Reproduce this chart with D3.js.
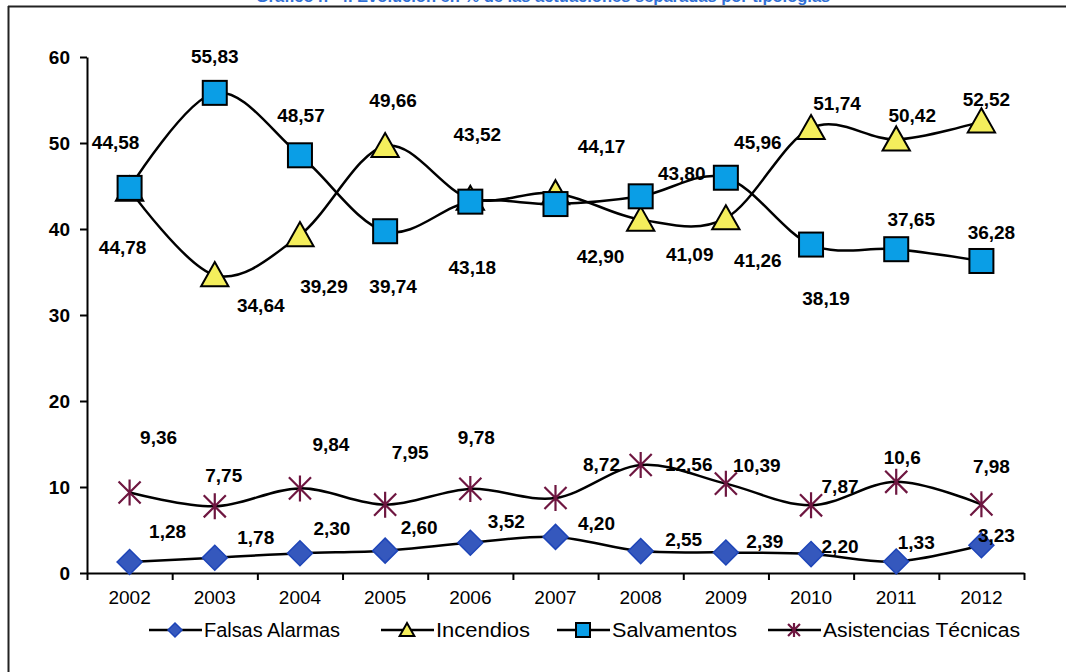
<!DOCTYPE html>
<html><head><meta charset="utf-8">
<script src="https://cdn.jsdelivr.net/npm/d3@7"></script>
<style>
html,body{margin:0;padding:0;background:#fff;}
svg{display:block;font-family:"Liberation Sans",Arial,sans-serif;}
</style></head>
<body><svg id="c" width="1066" height="672"></svg>
<script>
// ---- data ----
const years = ['2002','2003','2004','2005','2006','2007','2008','2009','2010','2011','2012'];
const falsasAlarmas = [1.28, 1.78, 2.30, 2.60, 3.52, 4.20, 2.55, 2.39, 2.20, 1.33, 3.23];
const incendios     = [44.58, 34.64, 39.29, 49.66, 43.52, 44.17, 41.09, 41.26, 51.74, 50.42, 52.52];
const salvamentos   = [44.78, 55.83, 48.57, 39.74, 43.18, 42.90, 43.80, 45.96, 38.19, 37.65, 36.28];
const asistencias   = [9.36, 7.75, 9.84, 7.95, 9.78, 8.72, 12.56, 10.39, 7.87, 10.6, 7.98];
const asistenciasDecimals = [2,2,2,2,2,2,2,2,2,1,2];
const yTicks = [0, 10, 20, 30, 40, 50, 60];
const seriesNames = ['Falsas Alarmas', 'Incendios', 'Salvamentos', 'Asistencias Técnicas'];
const titleText = 'Gráfico nº 4. Evolución en % de las actuaciones separadas por tipologías';

// label offsets (px) relative to each point [dx, dy]
const faOff = [[38,-30],[41,-20],[32,-25],[34,-23],[36,-21],[41,-13],[43,-12],[39,-11],[29,-8],[20,-19],[15,-10]];
const inOff = [[-14,-47],[46,30],[24,51],[8,-45],[7,-64],[46,-47],[49,35],[32,42],[26,-25],[16,-24],[5,-22]];
const saOff = [[-7,60],[0,-36],[1,-40],[8,55],[2,66],[45,52],[41,-23],[32,-35],[15,54],[15,-30],[10,-28]];
const asOff = [[29,-55],[9,-31],[31,-44],[25,-52],[6,-51],[46,-34],[48,0],[31,-18],[29,-19],[6,-24],[10,-38]];

// legend layout
const legX = [149, 381, 557, 768];
const legTextLen = [136, 94, 125, 197];

const svg = d3.select('#c');

// frame
svg.append('line').attr('x1',8).attr('x2',1066).attr('y1',6.5).attr('y2',6.5).attr('stroke','#222').attr('stroke-width',2);
svg.append('line').attr('x1',8.5).attr('x2',8.5).attr('y1',6).attr('y2',672).attr('stroke','#222').attr('stroke-width',2);

// title (cut off at top edge as in the reference)
svg.append('text').attr('x',543).attr('y',2).attr('text-anchor','middle')
  .attr('font-size',16.5).attr('font-weight','bold').attr('fill','#2f6fd6').text(titleText);

const x = d3.scaleBand().domain(years).range([87, 1024]);
const xc = d => x(d) + x.bandwidth()/2;
const xEdge = d3.scaleLinear().domain([0, years.length]).range([87, 1024]);
const y = d3.scaleLinear().domain([0, 60]).range([573, 57]);

// y axis
const ya = svg.append('g').attr('transform','translate(87,0)')
  .call(d3.axisLeft(y).tickValues(yTicks).tickSize(7).tickSizeOuter(0).tickPadding(10));
ya.select('.domain').attr('stroke','#000').attr('stroke-width',2);
ya.selectAll('.tick line').attr('stroke','#000').attr('stroke-width',2);
ya.selectAll('.tick text').attr('font-size',19).attr('font-weight','bold').attr('fill','#000')
  .attr('font-family','"Liberation Sans",Arial,sans-serif');

// x axis: boundary ticks
const xb = svg.append('g').attr('transform','translate(0,573)')
  .call(d3.axisBottom(xEdge).tickValues(d3.range(0, years.length+1)).tickFormat('').tickSize(7).tickSizeOuter(0));
xb.select('.domain').attr('stroke','#000').attr('stroke-width',2);
xb.selectAll('.tick line').attr('stroke','#000').attr('stroke-width',2);
// x axis labels
const xa = svg.append('g').attr('transform','translate(0,573)')
  .call(d3.axisBottom(x).tickSize(0).tickPadding(18));
xa.select('.domain').remove();
xa.selectAll('.tick text').attr('font-size',19).attr('fill','#000')
  .attr('font-family','"Liberation Sans",Arial,sans-serif');

const fmt = (v, dec) => v.toFixed(dec).replace('.', ',');
const line = d3.line().x((d,i) => xc(years[i])).y(d => y(d)).curve(d3.curveCardinal.tension(0));

// marker drawers
function diamond(g, s){
  g.append('path').attr('d', `M0,${-s}L${s},0L0,${s}L${-s},0Z`)
   .attr('fill','#3558bd').attr('stroke','#1e45b8').attr('stroke-width',1.5);
}
function triangle(g, s){
  g.append('path').attr('d', `M0,${-s}L${s*1.05},${s*0.85}L${-s*1.05},${s*0.85}Z`)
   .attr('fill','#f4ee5c').attr('stroke','#000').attr('stroke-width',2);
}
function square(g, s){
  g.append('rect').attr('x',-s).attr('y',-s).attr('width',2*s).attr('height',2*s)
   .attr('fill','#0a9ee6').attr('stroke','#000').attr('stroke-width',2);
}
function star(g, s){
  const c = '#6e1640';
  g.append('path').attr('d', `M0,${-s}L0,${s}M${-s*0.85},${-s*0.85}L${s*0.85},${s*0.85}M${s*0.85},${-s*0.85}L${-s*0.85},${s*0.85}`)
   .attr('stroke',c).attr('stroke-width',2.2).attr('fill','none');
}

const series = [
  {vals: falsasAlarmas, off: faOff, mk: diamond, size: 12.5, dec: falsasAlarmas.map(()=>2)},
  {vals: incendios, off: inOff, mk: triangle, size: 13, dec: incendios.map(()=>2)},
  {vals: salvamentos, off: saOff, mk: square, size: 12, dec: salvamentos.map(()=>2)},
  {vals: asistencias, off: asOff, mk: star, size: 13, dec: asistenciasDecimals}
];

series.forEach(s => {
  svg.append('path').datum(s.vals).attr('d', line)
    .attr('fill','none').attr('stroke','#000').attr('stroke-width',2.5);
  s.vals.forEach((v,i) => {
    const g = svg.append('g').attr('transform', `translate(${xc(years[i])},${y(v)})`);
    s.mk(g, s.size);
  });
});
// data labels
series.forEach(s => {
  s.vals.forEach((v,i) => {
    svg.append('text').attr('x', xc(years[i]) + s.off[i][0]).attr('y', y(v) + s.off[i][1])
      .attr('text-anchor','middle').attr('dominant-baseline','central')
      .attr('font-size',19).attr('font-weight','bold').attr('fill','#000')
      .text(fmt(v, s.dec[i]));
  });
});

// legend
const lg = svg.append('g');
series.forEach((s,i) => {
  const g = lg.append('g').attr('transform', `translate(${legX[i]},630)`);
  g.append('line').attr('x1',0).attr('x2',53).attr('y1',0).attr('y2',0).attr('stroke','#000').attr('stroke-width',2.5);
  const m = g.append('g').attr('transform','translate(26,0)');
  s.mk(m, 7);
  g.append('text').attr('x',55).attr('y',0).attr('dominant-baseline','central')
    .attr('font-size',20).attr('fill','#000')
    .attr('textLength', legTextLen[i]).attr('lengthAdjust','spacingAndGlyphs')
    .text(seriesNames[i]);
});
</script></body></html>
